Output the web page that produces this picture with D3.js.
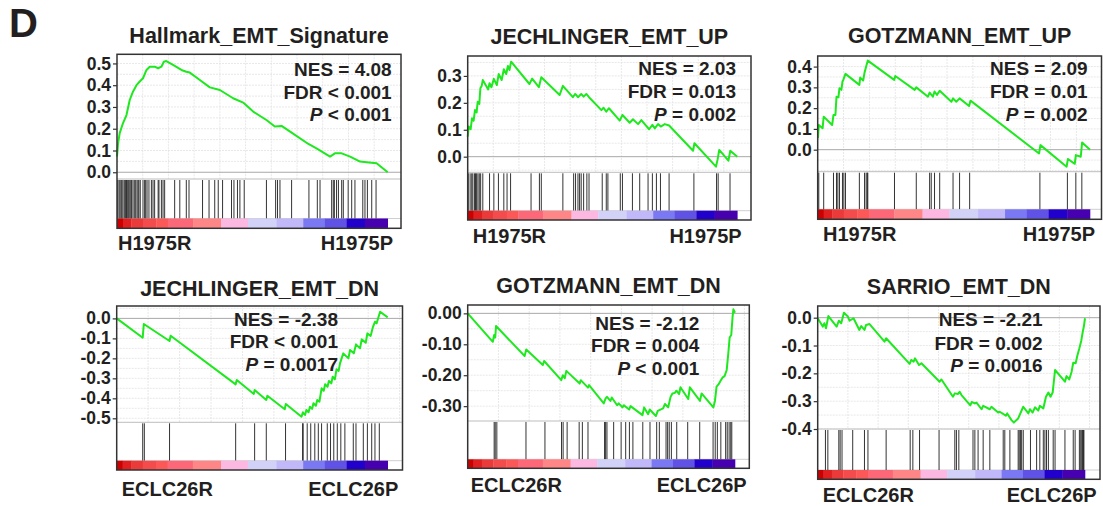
<!DOCTYPE html>
<html>
<head>
<meta charset="utf-8">
<title>GSEA panels</title>
<script src="https://d3js.org/d3.v7.min.js"></script>
<style>
  body { margin: 0; background: #fff; }
  svg text { font-family: "Liberation Sans", Arial, sans-serif; font-weight: bold; fill: #231f20; }
</style>
</head>
<body>
<svg id="fig" width="1103" height="506"></svg>
<script>
// ---- data: [rank position in %, running enrichment score] ----
const hallmarkES = [[0,.072],[0.4,.133],[1.0,.18],[2.2,.225],[3.5,.263],[4.7,.332],[5.9,.37],[7.2,.40],[8.4,.417],[9.6,.432],
  [10.9,.47],[12.1,.485],[13.9,.485],[15.2,.478],[16.4,.485],[17.3,.508],[18.2,.511],[20.7,.493],[23.8,.47],[25.6,.462],
  [26.9,.458],[30.6,.424],[34.3,.39],[38.0,.378],[42.9,.34],[46.6,.32],[50.3,.279],[55.2,.24],[58.3,.21],[60.8,.213],
  [64.5,.182],[70.7,.13],[73.7,.11],[78.7,.072],[80.5,.087],[83.0,.087],[86.1,.072],[89.8,.049],[92.2,.046],[95.9,.041],[100,0]];
const hallmarkHits = [.25,.74,1.1,1.5,1.8,2.2,2.7,3.1,3.5,3.8,4.2,4.7,5.1,5.4,5.9,6.4,6.9,7.4,7.8,8.1,8.6,9.6,10.2,10.6,11.1,
  11.8,12.7,13.3,13.9,15.2,15.5,16.4,17.0,17.6,21.3,23.2,25.6,26.6,31.6,34.0,36.1,37.4,39.0,42.3,43.2,44.5,45.4,47.0,55.2,
  58.6,59.3,60.2,64.5,70.9,74.0,75.0,79.3,79.9,80.3,81.1,81.8,83.0,83.6,85.4,86.7,87.9,90.8,91.6,92.5,94.1,95.7];

const jechUpES = [[0,.074],[.4,.112],[1.1,.102],[1.6,.143],[2.2,.134],[2.7,.173],[3.3,.164],[3.7,.204],[4.3,.196],[4.7,.254],
  [5.2,.263],[5.6,.285],[7.6,.25],[8.1,.273],[8.8,.258],[9.7,.289],[10.8,.266],[11.5,.307],[12.6,.285],[13.4,.325],[14.3,.307],
  [14.9,.337],[15.5,.322],[16.1,.353],[22.9,.27],[23.9,.29],[26.4,.258],[27.3,.295],[34.1,.229],[35.3,.263],[39.0,.221],
  [39.9,.233],[40.9,.221],[42.1,.233],[43.0,.223],[44.0,.233],[45.0,.221],[49.6,.173],[50.4,.182],[51.4,.167],[52.4,.18],
  [56.4,.134],[57.4,.155],[60.1,.126],[61.3,.139],[63.2,.121],[64.4,.136],[67.3,.102],[68.5,.118],[69.4,.105],[70.6,.121],
  [71.6,.112],[73.1,.121],[74.7,.116],[83.6,.022],[84.1,.05],[92.1,-.037],[92.7,-.01],[93.3,.025],[96.7,-.015],[97.4,.022],[100,0]];
const jechUpHits = [.2,.9,1.5,1.9,2.5,2.9,3.3,3.8,4.3,4.8,5.6,8.1,9.7,11.4,13.4,14.6,15.9,23.5,26.6,27.3,35.3,39.3,40.0,40.9,
  41.5,42.1,43.0,44.2,45.0,49.9,51.4,52.0,56.6,57.4,61.1,63.8,66.9,68.5,70.0,71.5,74.7,83.9,92.3,92.9,97.3];

const gotzUpES = [[.1,.055],[.4,.119],[1.8,.103],[2.2,.159],[5.3,.119],[5.8,.167],[6.5,.167],[6.9,.255],[7.6,.252],[8.0,.296],
  [8.7,.288],[9.1,.328],[9.4,.336],[10.2,.365],[15.3,.312],[15.6,.347],[16.7,.333],[17.2,.371],[17.8,.40],[18.4,.429],
  [28.1,.336],[28.5,.355],[35.6,.288],[36.2,.30],[40.5,.255],[41.1,.275],[42.3,.255],[42.9,.28],[43.8,.264],[44.8,.284],
  [49.1,.231],[49.7,.247],[50.9,.231],[52.1,.247],[55.6,.21],[56.1,.236],[81.3,-.018],[81.8,.022],[91.4,-.082],[91.9,-.045],
  [94.4,-.068],[94.8,-.026],[96.6,-.034],[97.1,.034],[100,0]];
const gotzUpHits = [.4,2.2,5.8,6.9,7.4,8.0,9.1,9.6,10.2,15.3,17.2,17.8,18.2,18.4,28.2,36.2,41.1,41.7,42.9,44.8,49.7,52.1,
  55.8,81.6,91.7,94.8,97.0];

const jechDnES = [[0,0],[9.6,-.097],[10.0,-.028],[19.5,-.113],[19.9,-.087],[43.9,-.33],[44.3,-.308],[50.6,-.378],[50.9,-.358],
  [55.2,-.408],[55.6,-.387],[62.0,-.455],[62.4,-.428],[68.2,-.492],[68.7,-.47],[69.5,-.483],[70.0,-.458],[70.8,-.47],
  [71.3,-.442],[72.1,-.453],[72.6,-.425],[73.5,-.437],[74.0,-.408],[74.8,-.417],[75.6,-.35],[76.4,-.362],[76.9,-.33],
  [77.8,-.342],[78.3,-.313],[79.2,-.325],[79.7,-.292],[80.5,-.305],[81.1,-.255],[81.9,-.263],[82.4,-.225],[83.6,-.175],
  [85.5,-.2],[86.1,-.158],[87.5,-.175],[88.3,-.13],[89.8,-.15],[90.4,-.105],[91.9,-.122],[92.5,-.075],[93.7,-.088],
  [94.5,-.045],[95.3,-.017],[95.9,-.025],[97.2,.033],[100,.005]];
const jechDnHits = [9.6,10.2,19.5,43.9,50.9,55.2,62.3,68.6,68.8,70.3,71.6,73.1,74.4,75.6,77.7,78.9,80.1,81.4,82.7,84.2,
  87.3,88.3,91.0,92.5,94.1,95.3,96.9];

const gotzDnES = [[0,0],[9.4,-.092],[9.9,-.07],[10.3,-.078],[10.6,-.041],[21.3,-.138],[21.9,-.117],[28.1,-.167],[28.6,-.154],
  [35.0,-.216],[35.6,-.2],[36.3,-.21],[36.9,-.186],[41.9,-.227],[42.3,-.216],[45.0,-.24],[45.4,-.232],[50.9,-.291],
  [51.6,-.275],[52.1,-.27],[53.4,-.283],[53.9,-.272],[55.9,-.297],[56.5,-.291],[57.9,-.304],[58.4,-.297],[60.4,-.311],
  [60.9,-.3],[65.4,-.329],[66.0,-.304],[67.5,-.326],[68.1,-.311],[70.4,-.332],[71.1,-.315],[73.1,-.307],[73.8,-.293],
  [75.0,-.304],[75.9,-.27],[76.6,-.259],[77.5,-.257],[78.1,-.25],[79.1,-.261],[79.6,-.239],[82.5,-.277],[83.1,-.239],
  [86.9,-.283],[87.5,-.259],[91.9,-.304],[92.5,-.283],[93.1,-.237],[93.9,-.229],[94.6,-.218],[95.4,-.207],[96.1,-.203],
  [96.9,-.183],[97.5,-.129],[98.0,-.078],[98.6,-.07],[99.1,-.011],[99.4,.013],[100,.002]];
const gotzDnHits = [9.9,10.3,10.9,21.8,28.9,35.1,35.7,37.2,41.7,42.9,45.0,51.2,51.6,52.1,54.6,57.4,59.1,60.5,61.8,65.5,
  68.2,70.7,71.7,74.2,74.8,75.4,76.2,78.2,82.3,86.8,91.8,92.6,93.4,94.7,96.5,97.1,97.8,98.4,98.8];

const sarrioDnES = [[0,-.002],[1.9,-.032],[2.5,-.02],[3.1,-.038],[4.0,.006],[5.6,-.014],[7.1,-.032],[7.9,-.011],[8.8,-.02],
  [9.8,.018],[11.3,.004],[11.9,-.011],[13.4,-.002],[15.6,-.044],[16.3,-.03],[17.5,-.044],[18.1,-.026],[19.4,-.023],
  [25.0,-.086],[25.6,-.074],[34.4,-.166],[35.0,-.152],[35.9,-.158],[36.4,-.146],[37.9,-.17],[38.8,-.164],[45.6,-.23],
  [46.3,-.222],[50.6,-.284],[51.3,-.272],[52.5,-.274],[53.1,-.266],[53.8,-.278],[57.1,-.315],[57.6,-.303],[58.8,-.308],
  [59.4,-.305],[61.3,-.329],[61.9,-.317],[64.4,-.329],[65.0,-.32],[67.5,-.341],[68.1,-.338],[70.4,-.352],[70.9,-.344],
  [72.5,-.368],[73.4,-.377],[74.1,-.37],[75.0,-.362],[76.9,-.32],[78.8,-.344],[79.4,-.329],[80.4,-.341],[81.3,-.322],
  [82.5,-.334],[83.1,-.317],[84.4,-.326],[85.4,-.284],[86.3,-.269],[87.1,-.284],[87.9,-.269],[88.8,-.188],[92.5,-.23],
  [93.1,-.21],[94.1,-.222],[95.0,-.194],[95.6,-.162],[96.5,-.164],[97.1,-.138],[97.9,-.11],[98.6,-.083],[99.1,-.054],
  [99.6,-.03],[100,-.002]];
const sarrioDnHits = [2.9,3.8,7.9,8.4,9.1,13.1,17.5,18.8,25.6,34.6,35.6,38.1,45.4,51.3,51.9,52.8,58.1,58.8,60.0,61.9,64.4,
  69.4,70.0,71.9,75.0,75.4,75.9,76.3,76.9,79.6,81.9,83.1,84.4,85.0,85.6,86.3,88.1,88.8,92.5,95.6,96.3,97.9,98.4,98.8,99.1,
  99.4,99.6];

const titles = ["Hallmark_EMT_Signature", "JECHLINGER_EMT_UP", "GOTZMANN_EMT_UP",
                "JECHLINGER_EMT_DN", "GOTZMANN_EMT_DN", "SARRIO_EMT_DN"];
const nesText = ["NES = 4.08", "NES = 2.03", "NES = 2.09", "NES = -2.38", "NES = -2.12", "NES = -2.21"];
const fdrText = ["FDR < 0.001", "FDR = 0.013", "FDR = 0.01", "FDR < 0.001", "FDR = 0.004", "FDR = 0.002"];
const pText = [" < 0.001", " = 0.002", " = 0.002", " = 0.0017", " < 0.001", " = 0.0016"];
const leftLabels = ["H1975R", "H1975R", "H1975R", "ECLC26R", "ECLC26R", "ECLC26R"];
const rightLabels = ["H1975P", "H1975P", "H1975P", "ECLC26P", "ECLC26P", "ECLC26P"];
const yTicks = [[0, .1, .2, .3, .4, .5], [0, .1, .2, .3], [0, .1, .2, .3, .4],
                [0, -.1, -.2, -.3, -.4, -.5], [0, -.1, -.2, -.3], [0, -.1, -.2, -.3, -.4]];
const curves = [hallmarkES, jechUpES, gotzUpES, jechDnES, gotzDnES, sarrioDnES];
const hits = [hallmarkHits, jechUpHits, gotzUpHits, jechDnHits, gotzDnHits, sarrioDnHits];

// ranked-list colour bar (red -> blue)
const rankColors = ["#cc0000","#e02020","#ea3a3a","#f44c4c","#fd5858","#fc6878","#fe8686","#fdb8e2",
                    "#d2d2f8","#c0b8f8","#7a78f2","#6152e6","#2200cc","#4600b0"];
const rankBreaks = [0,.022,.053,.096,.145,.188,.281,.385,.484,.589,.688,.768,.848,.916,1];

// panel geometry (pixels)
const layout = [
  {x0:117, x1:401, top:54.3, cb:179, hb:218.5, bb:228.3, br:387.7, yd:[-0.031,0.542], fmt:".1f", gs:9.5, ty:43, sx:391.7, sy:[76,99,120.7], ly:250, ll:118, lr:393},
  {x0:467.7, x1:751, top:56, cb:172.3, hb:210.7, bb:220, br:737.3, yd:[-0.058,0.374], fmt:".1f", gs:9.5, ty:44, sx:736, sy:[75,97.7,120.7], ly:242.7, ll:472.7, lr:741.7},
  {x0:817.7, x1:1101.5, top:56, cb:171.7, hb:209.3, bb:219.3, br:1090, yd:[-0.106,0.451], fmt:".1f", gs:9.5, ty:43.3, sx:1087.7, sy:[75,98.3,120.7], ly:240.7, ll:823, lr:1095},
  {x0:116.7, x1:402.5, top:306, cb:422.3, hb:460.7, bb:470, br:387.7, yd:[-0.52,0.062], fmt:".1f", gs:11.6, ty:296, sx:338, sy:[326,348.3,370.7], ly:496, ll:121.7, lr:398.3},
  {x0:467.7, x1:749.3, top:305, cb:421, hb:459.3, bb:468.3, br:735, yd:[-0.348,0.027], fmt:".2f", gs:11.5, ty:293.3, sx:699.3, sy:[330,351.7,375], ly:491.7, ll:470.7, lr:746.7},
  {x0:817.7, x1:1100, top:306, cb:429, hb:470, bb:479.3, br:1085, yd:[-0.4,0.042], fmt:".1f", gs:11.3, ty:294.3, sx:1042.7, sy:[326,350,372.3], ly:501.7, ll:822.7, lr:1096.7}
];

const loc = d3.formatLocale({decimal: ".", thousands: ",", grouping: [3], currency: ["", ""], minus: "-"});
const svg = d3.select("#fig");

svg.append("text").attr("x", 9).attr("y", 37).style("font-size", "40px").text("D");

layout.forEach(function (L, i) {
  const g = svg.append("g");
  const x = d3.scaleLinear().domain([0, 100]).range([L.x0, L.br]);
  const y = d3.scaleLinear().domain(L.yd).range([L.cb, L.top]);

  g.append("rect").attr("x", L.x0).attr("y", L.top).attr("width", L.x1 - L.x0).attr("height", L.bb - L.top)
    .attr("fill", "#fff");

  // horizontal grid (every 0.05)
  const hg = d3.range(-0.6, 0.6001, 0.05).filter(v => v > L.yd[0] && v < L.yd[1] && Math.abs(v) > 1e-6);
  g.selectAll(".hg").data(hg).enter().append("line")
    .attr("x1", L.x0).attr("x2", L.x1).attr("y1", d => y(d)).attr("y2", d => y(d))
    .attr("stroke", "#e2e2e2").attr("stroke-width", 0.8).attr("stroke-dasharray", "2,1");
  // vertical grid
  const vg = d3.range(L.gs, 200, L.gs).filter(v => x(v) < L.x1 - 2);
  g.selectAll(".vg").data(vg).enter().append("line")
    .attr("x1", d => x(d)).attr("x2", d => x(d)).attr("y1", L.top).attr("y2", L.cb)
    .attr("stroke", "#e2e2e2").attr("stroke-width", 0.8).attr("stroke-dasharray", "2,1");

  // zero line and dividers
  g.append("line").attr("x1", L.x0).attr("x2", L.x1).attr("y1", y(0)).attr("y2", y(0))
    .attr("stroke", "#a8a8a8").attr("stroke-width", 1);
  g.append("line").attr("x1", L.x0).attr("x2", L.x1).attr("y1", L.cb).attr("y2", L.cb)
    .attr("stroke", "#bdbdbd").attr("stroke-width", 1);
  g.append("line").attr("x1", L.x0).attr("x2", L.x1).attr("y1", L.hb).attr("y2", L.hb)
    .attr("stroke", "#cfcfcf").attr("stroke-width", 1);

  // hits
  g.selectAll(".hit").data(hits[i]).enter().append("line")
    .attr("x1", d => x(d)).attr("x2", d => x(d)).attr("y1", L.cb + 1).attr("y2", L.hb)
    .attr("stroke", "#1e1e1e").attr("stroke-opacity", 0.9).attr("stroke-width", 1);

  // colour bar
  g.selectAll(".cb").data(rankColors).enter().append("rect")
    .attr("x", (d, k) => x(rankBreaks[k] * 100))
    .attr("width", (d, k) => x(rankBreaks[k + 1] * 100) - x(rankBreaks[k] * 100) + 0.3)
    .attr("y", L.hb).attr("height", L.bb - L.hb)
    .attr("fill", d => d);

  // running ES
  const line = d3.line().x(d => x(d[0])).y(d => y(d[1]));
  g.append("path").datum(curves[i]).attr("d", line)
    .attr("fill", "none").attr("stroke", "#1ee81e").attr("stroke-width", 2).attr("stroke-linejoin", "round");

  // frame
  g.append("rect").attr("x", L.x0).attr("y", L.top).attr("width", L.x1 - L.x0).attr("height", L.bb - L.top)
    .attr("fill", "none").attr("stroke", "#333").attr("stroke-width", 1.5);

  // y axis
  const ax = g.append("g").attr("transform", `translate(${L.x0},0)`)
    .call(d3.axisLeft(y).tickValues(yTicks[i]).tickFormat(loc.format(L.fmt)).tickSize(4).tickPadding(2));
  ax.select(".domain").remove();
  ax.selectAll(".tick line").attr("stroke", "#333").attr("stroke-width", 1.2);
  ax.selectAll(".tick text").style("font-size", "17.5px").style("font-family", "'Liberation Sans', Arial, sans-serif")
    .style("font-weight", "bold").attr("fill", "#231f20");

  // title
  g.append("text").attr("x", (L.x0 + L.x1) / 2).attr("y", L.ty).attr("text-anchor", "middle")
    .style("font-size", "21.5px").text(titles[i]);

  // statistics
  g.append("text").attr("x", L.sx).attr("y", L.sy[0]).attr("text-anchor", "end").style("font-size", "19px").text(nesText[i]);
  g.append("text").attr("x", L.sx).attr("y", L.sy[1]).attr("text-anchor", "end").style("font-size", "19px").text(fdrText[i]);
  const pt = g.append("text").attr("x", L.sx).attr("y", L.sy[2]).attr("text-anchor", "end").style("font-size", "19px");
  pt.append("tspan").style("font-style", "italic").text("P");
  pt.append("tspan").text(pText[i]);

  // group labels
  g.append("text").attr("x", L.ll).attr("y", L.ly).style("font-size", "20px").text(leftLabels[i]);
  g.append("text").attr("x", L.lr).attr("y", L.ly).attr("text-anchor", "end").style("font-size", "20px").text(rightLabels[i]);
});
</script>
</body>
</html>
